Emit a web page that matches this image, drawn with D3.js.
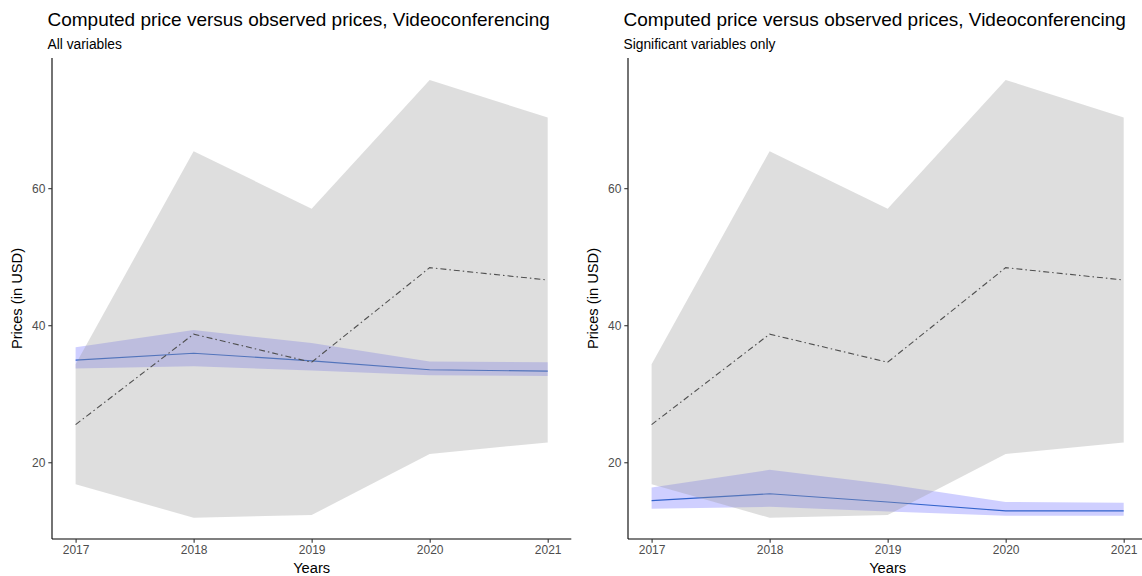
<!DOCTYPE html>
<html>
<head>
<meta charset="utf-8">
<script src="https://cdn.jsdelivr.net/npm/d3@7"></script>
<style>
  html, body { margin: 0; padding: 0; background: #fff; }
  svg { display: block; font-family: "Liberation Sans", Arial, sans-serif; }
</style>
</head>
<body>
<svg id="chart" width="1142" height="576"></svg>
<script>
// Years on the x axis
const years = [2017, 2018, 2019, 2020, 2021];

// Observed prices: mean and min/max range
const observedMean = [25.5, 38.7, 34.6, 48.4, 46.6];
const observedLow  = [16.8, 11.9, 12.3, 21.2, 22.9];
const observedHigh = [34.3, 65.4, 57.0, 75.8, 70.3];

// Computed price, model with all variables
const allFit  = [34.9, 35.9, 34.8, 33.5, 33.3];
const allLow  = [33.7, 34.0, 33.4, 32.7, 32.6];
const allHigh = [36.8, 39.3, 37.4, 34.7, 34.6];

// Computed price, model with significant variables only
const sigFit  = [14.4, 15.4, 14.2, 12.9, 12.9];
const sigLow  = [13.2, 13.5, 12.8, 12.2, 12.2];
const sigHigh = [16.3, 18.9, 16.8, 14.2, 14.1];

const yTicks = [20, 40, 60];
const titleText = "Computed price versus observed prices, Videoconferencing";
const subtitles = ["All variables", "Significant variables only"];

const panels = [
  { sub: subtitles[0], fit: allFit, low: allLow, high: allHigh },
  { sub: subtitles[1], fit: sigFit, low: sigLow, high: sigHigh }
];

const svg = d3.select("#chart");
const panelWidth = 576;
const plot = { left: 52, right: 571.3, top: 58, bottom: 539 };

const x = d3.scaleLinear().domain([2016.8, 2021.2]).range([plot.left, plot.right]);
const y = d3.scaleLinear().domain([8.8, 79.0]).range([plot.bottom, plot.top]);

const band = (lo, hi) => d3.area()
  .x((d, i) => x(years[i]))
  .y0((d, i) => y(lo[i]))
  .y1((d, i) => y(hi[i]));
const line = vals => d3.line()
  .x((d, i) => x(years[i]))
  .y((d, i) => y(vals[i]));

panels.forEach((p, k) => {
  const g = svg.append("g").attr("transform", `translate(${k * panelWidth},0)`);

  // computed price band and line
  g.append("path")
    .attr("d", band(p.low, p.high)(years))
    .attr("fill", "blue").attr("fill-opacity", 0.19);
  g.append("path")
    .attr("d", line(p.fit)(years))
    .attr("fill", "none").attr("stroke", "#3263cc").attr("stroke-width", 1.1);

  // observed price range
  g.append("path")
    .attr("d", band(observedLow, observedHigh)(years))
    .attr("fill", "#999999").attr("fill-opacity", 0.3235);

  // observed mean
  g.append("path")
    .attr("d", line(observedMean)(years))
    .attr("fill", "none").attr("stroke", "#505050").attr("stroke-width", 1.1)
    .attr("stroke-dasharray", "6,3,1.5,3");

  // axes
  const xAxis = d3.axisBottom(x).tickValues(years).tickFormat(d3.format("d")).tickSize(3.7).tickPadding(3);
  const gx = g.append("g").attr("transform", `translate(0,${plot.bottom})`).call(xAxis);
  const yAxis = d3.axisLeft(y).tickValues(yTicks).tickSize(3.7).tickPadding(3);
  const gy = g.append("g").attr("transform", `translate(${plot.left},0)`).call(yAxis);

  [gx, gy].forEach(ax => {
    ax.select(".domain").attr("stroke", "#000").attr("stroke-width", 1.1);
    ax.selectAll(".tick line").attr("stroke", "#333").attr("stroke-width", 1.1);
    ax.selectAll(".tick text").attr("fill", "#4d4d4d").attr("font-size", 12)
      .attr("font-family", "Liberation Sans, Arial, sans-serif");
  });
  gx.select(".domain").attr("d", `M${plot.left},0H${plot.right}`);
  gy.select(".domain").attr("d", `M0,${plot.top}V${plot.bottom}`);

  // titles
  g.append("text").attr("x", 47.5).attr("y", 26)
    .attr("font-size", 19).attr("fill", "#000").text(titleText);
  g.append("text").attr("x", 47.5).attr("y", 49)
    .attr("font-size", 13.8).attr("fill", "#000").text(p.sub);

  g.append("text")
    .attr("x", (plot.left + plot.right) / 2).attr("y", 573)
    .attr("text-anchor", "middle").attr("font-size", 14.7).text("Years");
  g.append("text")
    .attr("transform", `translate(17,${(plot.top + plot.bottom) / 2}) rotate(-90)`)
    .attr("dy", "0.35em")
    .attr("text-anchor", "middle").attr("font-size", 14.7).text("Prices (in USD)");
});
</script>
</body>
</html>
